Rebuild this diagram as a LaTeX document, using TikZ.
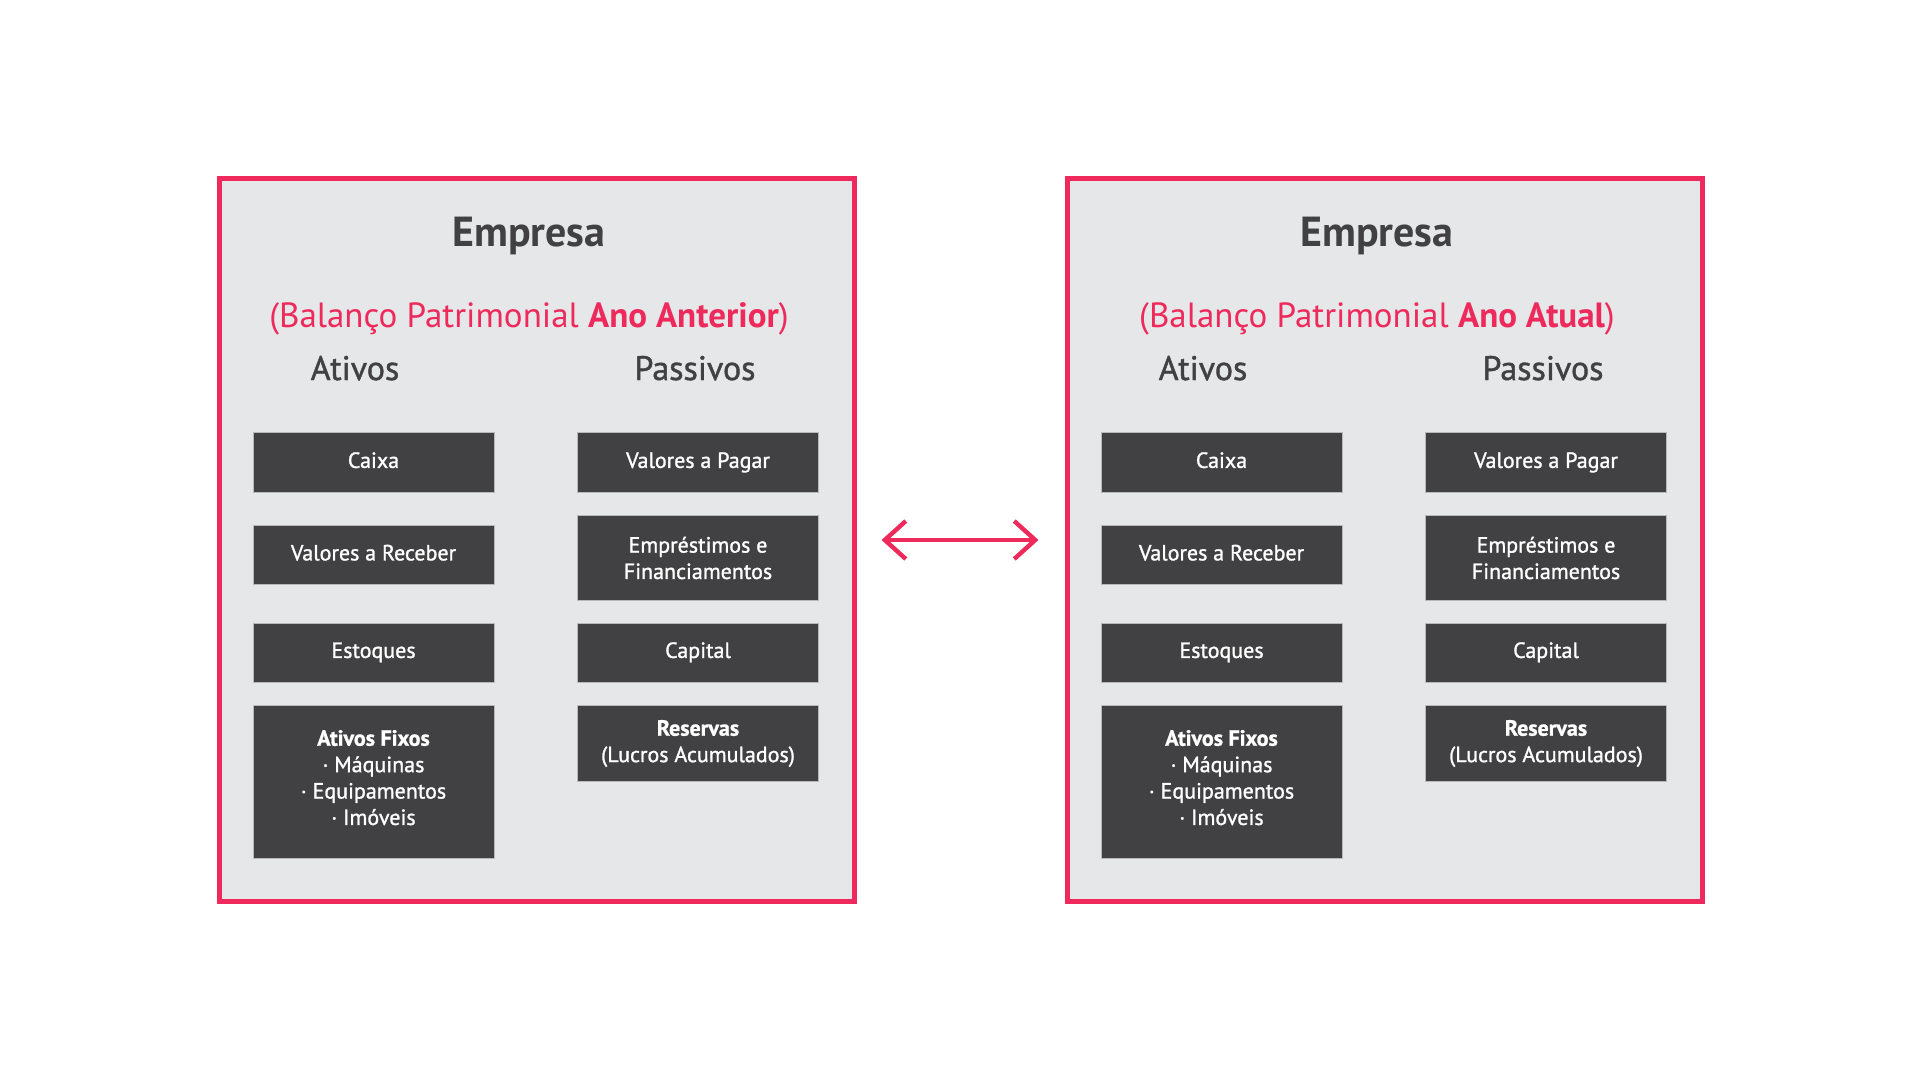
\documentclass[tikz,border=0pt]{standalone}
\usepackage{fontspec}
\setmainfont{PT Sans}
\newfontfamily\mediumfont[FakeBold=1.2]{PT Sans}
\usetikzlibrary{arrows.meta}

\definecolor{framered}{HTML}{EE2A5C}
\definecolor{panelgray}{HTML}{E6E7E8}
\definecolor{boxgray}{HTML}{414042}

\tikzset{
  panel/.style={rectangle,draw=framered,fill=panelgray,line width=2.5pt,minimum width=317.5pt,minimum height=361.5pt},
  item/.style={rectangle,draw=gray!55,line width=.4pt,fill=boxgray,text=white,minimum width=120.5pt,align=center,inner sep=0pt,font=\mediumfont\fontsize{11}{13.2}\selectfont},
  oneline/.style={text height=8pt,text depth=2.6pt},
  heading/.style={anchor=base,text=boxgray,font=\mediumfont\fontsize{17}{20}\selectfont},
}

\begin{document}
\begin{tikzpicture}[x=0.5pt,y=0.5pt]
  \fill[white] (0,0) rectangle (1920,-1081);

  \foreach \p/\dx/\ano in {a/0/Ano Anterior,b/848/Ano Atual}{
    % panel and titles
    \node[panel] (panel\p) at ({\dx+536.5},-540) {};
    \node[anchor=base,text=boxgray,font=\fontsize{21}{24}\selectfont\bfseries] (empresa\p) at ({\dx+529},-246) {Empresa};
    \node[anchor=base,text=framered,font=\fontsize{17.5}{21}\selectfont] (balanco\p) at ({\dx+529},-327) {(Balanço Patrimonial \textbf{\ano})};
    \node[heading] (ativos\p) at ({\dx+355},-380) {Ativos};
    \node[heading] (passivos\p) at ({\dx+695},-380) {Passivos};

    % ativos
    \node[item,oneline,minimum height=30pt] (caixa\p) at ({\dx+373.5},-462.5) {Caixa};
    \node[item,oneline,minimum height=29.5pt] (receber\p) at ({\dx+373.5},-555) {Valores a Receber};
    \node[item,oneline,minimum height=29.5pt] (estoques\p) at ({\dx+373.5},-652.5) {Estoques};
    \node[item,minimum height=76.5pt] (fixos\p) at ({\dx+373.5},-781.5) {\textbf{Ativos Fixos}\\· Máquinas\\· Equipamentos\\· Imóveis\rule[-4pt]{0pt}{4pt}};

    % passivos
    \node[item,oneline,minimum height=30pt] (pagar\p) at ({\dx+698},-462.5) {Valores a Pagar};
    \node[item,minimum height=42.5pt] (emprestimos\p) at ({\dx+698},-558) {Empréstimos e\\Financiamentos};
    \node[item,oneline,minimum height=29.5pt] (capital\p) at ({\dx+698},-652.5) {Capital};
    \node[item,minimum height=38pt] (reservas\p) at ({\dx+698},-743.5) {\textbf{Reservas}\\(Lucros Acumulados)};
  }

  % comparison arrow
  \draw[framered,line width=2.2pt,{Straight Barb[length=10.5pt,width=19pt]}-{Straight Barb[length=10.5pt,width=19pt]},shorten <=12.5pt,shorten >=13pt] (panela) -- (panelb);
\end{tikzpicture}
\end{document}
